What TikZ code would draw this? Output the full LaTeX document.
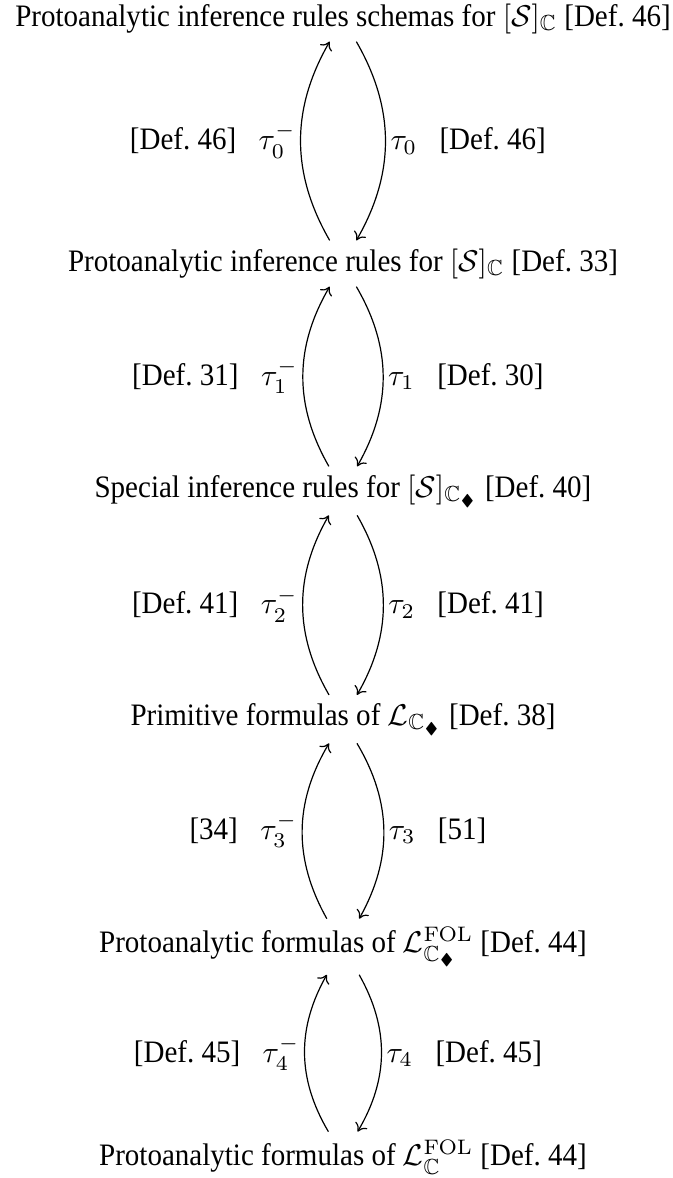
\documentclass[tikz,border=0pt]{standalone}
\usepackage{amsmath,amssymb}
\usepackage[no-math]{fontspec}
\setmainfont{Liberation Serif}[FakeStretch=0.93]
\usetikzlibrary{arrows.meta}

\tikzset{
  stage/.style={anchor=base, inner xsep=0pt, inner ysep=2.5pt, font=\fontsize{10.4}{12.5}\selectfont},
  lbl/.style={inner sep=1.5pt, font=\fontsize{10.4}{12.5}\selectfont},
  cdarrow/.style={line width=0.4pt, -{Computer Modern Rightarrow[length=2.6pt,width=4.6pt]}},
}
\newcommand{\lgap}{\hspace{0.72em}}

\begin{document}
\begin{tikzpicture}[x=0.3333pt, y=-0.3333pt]
  \useasboundingbox (0,0) rectangle (673,1178);

  \node[stage] (r1) at (343,26)
    {Protoanalytic inference rules schemas for $[\mathcal{S}]_{\mathbb{C}}$ [Def.~46]};
  \node[stage] (r2) at (343,271)
    {Protoanalytic inference rules for $[\mathcal{S}]_{\mathbb{C}}$ [Def.~33]};
  \node[stage] (r3) at (343,497)
    {Special inference rules for $[\mathcal{S}]_{\mathbb{C}_\blacklozenge}$ [Def.~40]};
  \node[stage] (r4) at (343,725)
    {Primitive formulas of $\mathcal{L}_{\mathbb{C}_\blacklozenge}$ [Def.~38]};
  \node[stage] (r5) at (343,952)
    {Protoanalytic formulas of $\mathcal{L}^{\mathrm{FOL}}_{\mathbb{C}_\blacklozenge}$ [Def.~44]};
  \node[stage] (r6) at (343,1165)
    {Protoanalytic formulas of $\mathcal{L}^{\mathrm{FOL}}_{\mathbb{C}}$ [Def.~44]};

  % tau_0
  \draw[cdarrow] (r2) to[bend left=30]
    node[lbl, left] (t0m) {[Def.~46]\lgap$\tau_0^-$} (r1);
  \draw[cdarrow] (r1) to[bend left=30]
    node[lbl, right] (t0) {$\tau_0$\lgap[Def.~46]} (r2);
  % tau_1
  \draw[cdarrow] (r3) to[bend left=30]
    node[lbl, left] (t1m) {[Def.~31]\lgap$\tau_1^-$} (r2);
  \draw[cdarrow] (r2) to[bend left=30]
    node[lbl, right] (t1) {$\tau_1$\lgap[Def.~30]} (r3);
  % tau_2
  \draw[cdarrow] (r4) to[bend left=30]
    node[lbl, left] (t2m) {[Def.~41]\lgap$\tau_2^-$} (r3);
  \draw[cdarrow] (r3) to[bend left=30]
    node[lbl, right] (t2) {$\tau_2$\lgap[Def.~41]} (r4);
  % tau_3
  \draw[cdarrow] (r5) to[bend left=30]
    node[lbl, left] (t3m) {[34]\lgap$\tau_3^-$} (r4);
  \draw[cdarrow] (r4) to[bend left=30]
    node[lbl, right] (t3) {$\tau_3$\lgap[51]} (r5);
  % tau_4
  \draw[cdarrow] (r6) to[bend left=30]
    node[lbl, left] (t4m) {[Def.~45]\lgap$\tau_4^-$} (r5);
  \draw[cdarrow] (r5) to[bend left=30]
    node[lbl, right] (t4) {$\tau_4$\lgap[Def.~45]} (r6);
\end{tikzpicture}
\end{document}
